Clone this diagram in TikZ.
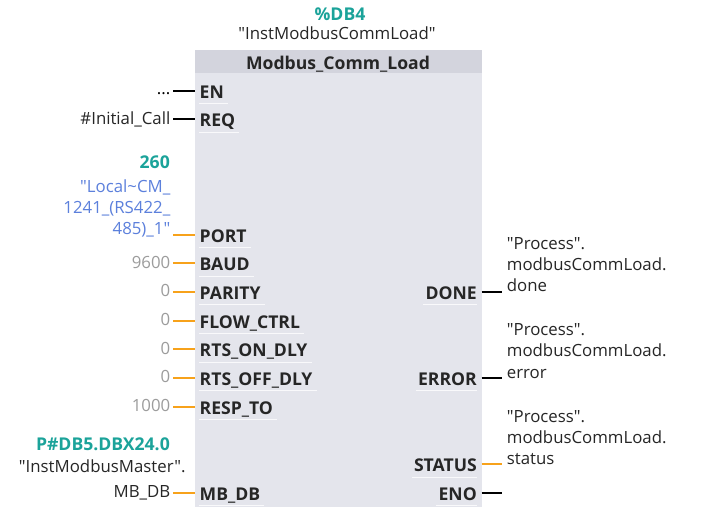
\documentclass[tikz,border=0pt]{standalone}
\usepackage{fontspec}
\setmainfont{Open Sans}[Ligatures=TeXOff]
\definecolor{boxfill}{HTML}{E4E5EC}
\definecolor{headfill}{HTML}{D3D4DD}
\definecolor{tealc}{HTML}{1BA39A}
\definecolor{lblue}{HTML}{5C80DC}
\definecolor{numgrey}{HTML}{9C9C9C}
\definecolor{wireor}{HTML}{F7A21B}
\definecolor{txt}{HTML}{262626}
\newcommand\fsz{\fontsize{16.8}{21}\selectfont}
\newcommand\bsz{\fontsize{17.6}{21}\selectfont\bfseries}
\begin{document}
\begin{tikzpicture}[x=1pt,y=-1pt,
  pinlbl/.style={anchor=base west,inner sep=0pt,font=\bsz,text=txt},
  pinrlbl/.style={anchor=base east,inner sep=0pt,font=\bsz,text=txt},
  val/.style={anchor=base east,inner sep=0pt,font=\fsz},
  outtxt/.style={anchor=base west,inner sep=0pt,align=left,font=\fsz,text=txt},
  bw/.style={draw=black,line width=2.2pt},
  ow/.style={draw=wireor,line width=2.2pt},
  uline/.style={draw=white,line width=1pt,opacity=0.8}]
\useasboundingbox[fill=white] (0,0) rectangle (704,518);
% block
\fill[boxfill] (194.5,50) rectangle (481.7,506.7);
\fill[headfill] (194.5,50) rectangle (481.7,73.3);
\node[anchor=base,inner sep=0pt,font=\bsz,text=txt] (title) at (338,69.3) {Modbus\_Comm\_Load};
\node[anchor=base,inner sep=0pt,font=\bsz,text=tealc] (db) at (340,20.7) {\%DB4};
\node[anchor=base,inner sep=0pt,font=\fsz,text=txt] (inst) at (337,40) {"InstModbusCommLoad"};
% left pins
\foreach \nm/\lab/\yy in {en/EN/90.7,req/REQ/119.3,port/PORT/235,baud/BAUD/263.3,parity/PARITY/292,flow/FLOW\_CTRL/320.7,rtson/RTS\_ON\_DLY/349.3,rtsoff/RTS\_OFF\_DLY/378,resp/RESP\_TO/406.7,mbdb/MB\_DB/492.7}{
  \node[pinlbl] (p\nm) at (199.5,\yy+7.5) {\lab};
  \coordinate (w\nm) at (173.3,\yy);
  \coordinate (b\nm) at (194.5,\yy);
  \draw[uline] (199,\yy+13) -- ([xshift=4pt,yshift=-5.5pt]p\nm.base east);
}
% right pins
\foreach \nm/\lab/\yy in {done/DONE/292,error/ERROR/378,status/STATUS/464.3,eno/ENO/492.7}{
  \node[pinrlbl] (p\nm) at (477,\yy+7.5) {\lab};
  \coordinate (w\nm) at (501.7,\yy);
  \coordinate (b\nm) at (481.7,\yy);
  \draw[uline] ([xshift=-2pt,yshift=-5.5pt]p\nm.base west) -- (477,\yy+13);
}
% wires
\draw[bw] (wen) -- (ben);
\draw[bw] (wreq) -- (breq);
\foreach \nm in {port,baud,parity,flow,rtson,rtsoff,resp,mbdb}{\draw[ow] (w\nm) -- (b\nm);}
\draw[bw] (bdone) -- (wdone);
\draw[bw] (berror) -- (werror);
\draw[ow] (bstatus) -- (wstatus);
\draw[bw] (beno) -- (weno);
% left values
\node[val,text=black] (ven) at (170.5,94.5) {...};
\node[val,text=txt] (vreq) at (170.5,124.5) {\#Initial\_Call};
\node[val,text=tealc,font=\bsz] (v260) at (170,168.3) {260};
\node[val,text=lblue] (vport1) at (170.5,193) {"Local\textasciitilde CM\_};
\node[val,text=lblue] (vport2) at (170.5,214) {1241\_(RS422\_};
\node[val,text=lblue] (vport3) at (170.5,235) {485)\_1"};
\node[val,text=numgrey] (vbaud) at (170.5,268.3) {9600};
\node[val,text=numgrey] (vpar) at (170.5,297) {0};
\node[val,text=numgrey] (vflow) at (170.5,325.7) {0};
\node[val,text=numgrey] (von) at (170.5,354.3) {0};
\node[val,text=numgrey] (voff) at (170.5,383) {0};
\node[val,text=numgrey] (vresp) at (170.5,411.7) {1000};
\node[val,text=tealc,font=\bsz] (vp) at (170,450) {P\#DB5.DBX24.0};
\node[val,text=txt] (vinst) at (185.7,472.7) {"InstModbusMaster".};
\node[val,text=txt] (vmb) at (170.5,497) {MB\_DB};
% right outputs
\foreach \nm/\last/\yy in {done/done/292,err/error/378,stat/status/464.3}{
  \node[outtxt] (o\nm1) at (506.7,\yy-42) {"Process".};
  \node[outtxt] (o\nm2) at (506.7,\yy-21) {modbusCommLoad.};
  \node[outtxt] (o\nm3) at (506.7,\yy) {\last};
}
\end{tikzpicture}
\end{document}
